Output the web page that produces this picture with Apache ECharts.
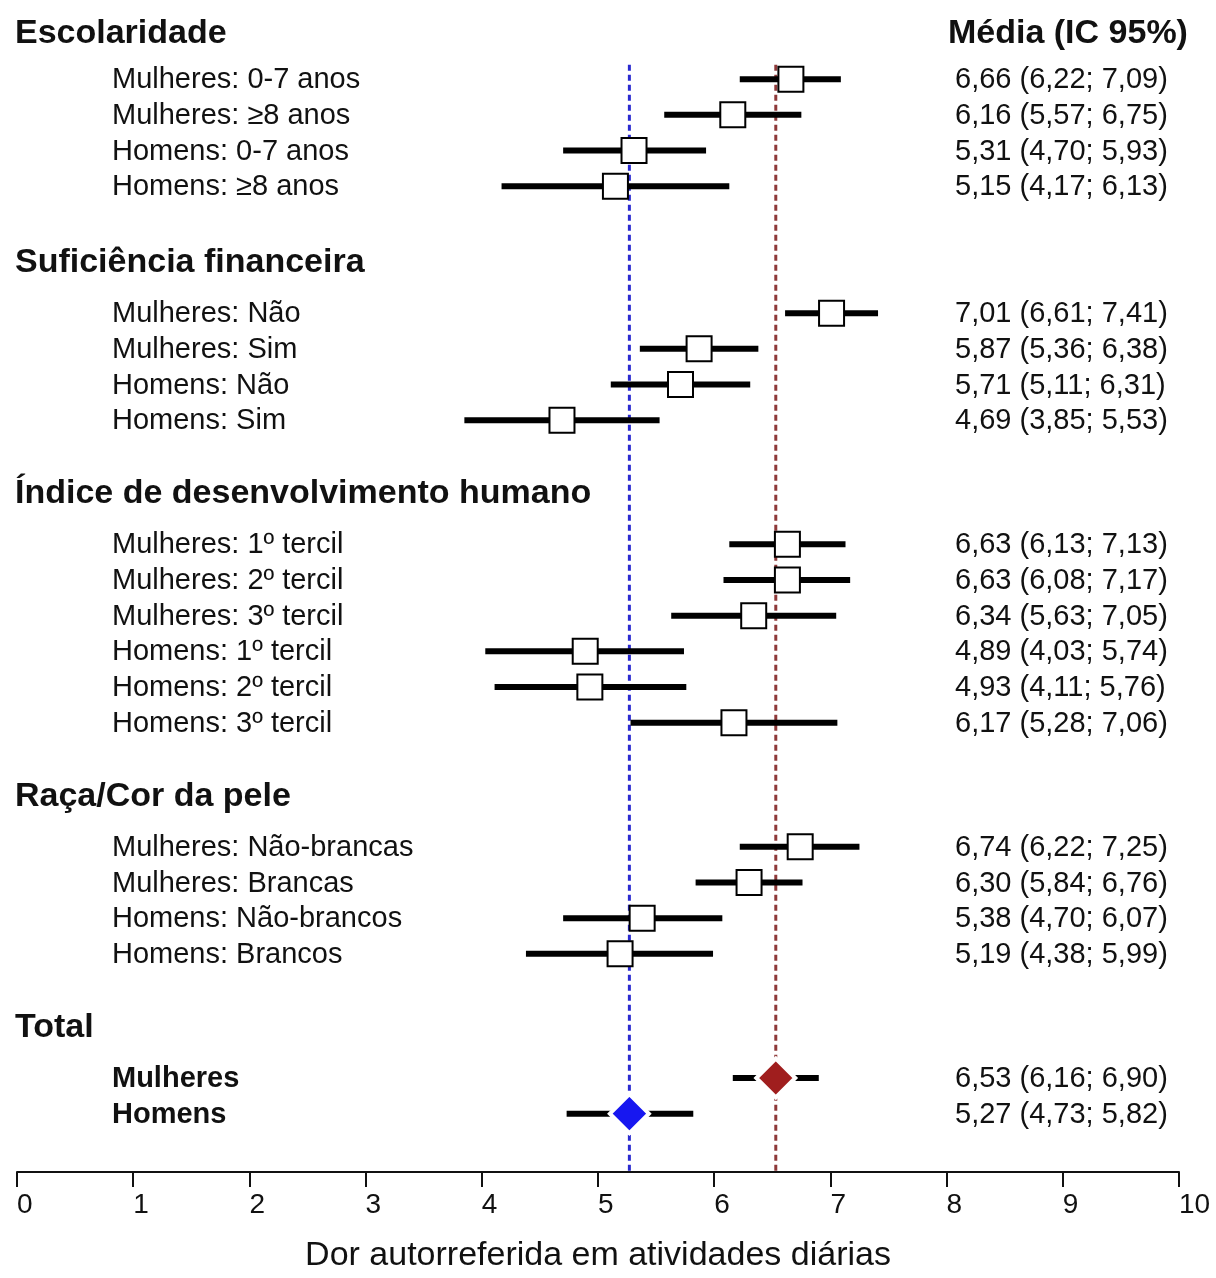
<!DOCTYPE html>
<html>
<head>
<meta charset="utf-8">
<script src="https://cdn.jsdelivr.net/npm/echarts@6/dist/echarts.min.js"></script>
<style>html,body{margin:0;padding:0;background:#fff;}#c{width:1216px;height:1278px;}</style>
</head>
<body>
<div id="c"></div>
<script>
// ---- data ----
const groups = ['Escolaridade', 'Suficiência financeira', 'Índice de desenvolvimento humano', 'Raça/Cor da pele', 'Total'];
const groupSizes = [4, 4, 6, 4, 2];
const labels = [
  'Mulheres: 0-7 anos', 'Mulheres: ≥8 anos', 'Homens: 0-7 anos', 'Homens: ≥8 anos',
  'Mulheres: Não', 'Mulheres: Sim', 'Homens: Não', 'Homens: Sim',
  'Mulheres: 1º tercil', 'Mulheres: 2º tercil', 'Mulheres: 3º tercil',
  'Homens: 1º tercil', 'Homens: 2º tercil', 'Homens: 3º tercil',
  'Mulheres: Não-brancas', 'Mulheres: Brancas', 'Homens: Não-brancos', 'Homens: Brancos',
  'Mulheres', 'Homens'
];
const means = [6.66, 6.16, 5.31, 5.15, 7.01, 5.87, 5.71, 4.69, 6.63, 6.63, 6.34, 4.89, 4.93, 6.17, 6.74, 6.30, 5.38, 5.19, 6.53, 5.27];
const lower = [6.22, 5.57, 4.70, 4.17, 6.61, 5.36, 5.11, 3.85, 6.13, 6.08, 5.63, 4.03, 4.11, 5.28, 6.22, 5.84, 4.70, 4.38, 6.16, 4.73];
const upper = [7.09, 6.75, 5.93, 6.13, 7.41, 6.38, 6.31, 5.53, 7.13, 7.17, 7.05, 5.74, 5.76, 7.06, 7.25, 6.76, 6.07, 5.99, 6.90, 5.82];
const xTicksMin = 0, xTicksMax = 10, xTickStep = 1;
const columnHeader = 'Média (IC 95%)';
const axisTitle = 'Dor autorreferida em atividades diárias';

// ---- layout (row positions, in row units) ----
const headerRows = [];
const itemRows = [];
const itemGroup = [];
let r = 0.5;
groups.forEach((g, gi) => {
  headerRows.push(r);
  r += (gi === 0 ? 1.355 : 1.5);
  for (let i = 0; i < groupSizes[gi]; i++) {
    itemRows.push(r); itemGroup.push(gi);
    if (i < groupSizes[gi] - 1) r += 1;
  }
  r += (gi === 0 ? 2.06 : 1.98);
});
const yMax = 32.49;
const totalIdx = groups.length - 1;
const fmt = v => v.toFixed(2).replace('.', ',');

const ciData = means.map((m, i) => [lower[i], upper[i], itemRows[i], i]);
const sqData = [], dmData = [];
means.forEach((m, i) => {
  if (itemGroup[i] === totalIdx) dmData.push({ value: [m, itemRows[i]], itemStyle: { color: labels[i] === 'Mulheres' ? '#a01e1e' : '#1717f0' } });
  else sqData.push([m, itemRows[i]]);
});
const mulTotal = means[labels.lastIndexOf('Mulheres')];
const homTotal = means[labels.lastIndexOf('Homens')];
const lineTop = headerRows[0] + 0.95;

const FONT = '"Liberation Sans", Arial, sans-serif';

const chart = echarts.init(document.getElementById('c'));
chart.setOption({
  animation: false,
  backgroundColor: '#fff',
  grid: { left: 17, right: 37, top: 13, bottom: 102 },
  xAxis: {
    type: 'value', min: xTicksMin, max: xTicksMax, interval: xTickStep, position: 'bottom',
    splitLine: { show: false },
    axisLine: { show: true, onZero: false, lineStyle: { color: '#111', width: 2 } },
    axisTick: { show: true, length: 15, lineStyle: { color: '#111', width: 2 } },
    axisLabel: { color: '#111', fontSize: 28, fontFamily: FONT, align: 'left', margin: 19 },
    name: axisTitle, nameLocation: 'middle', nameGap: 67,
    nameTextStyle: { color: '#111', fontSize: 34, fontFamily: FONT }
  },
  yAxis: { type: 'value', inverse: true, min: 0, max: yMax, show: false },
  series: [
    {
      type: 'line', data: [[homTotal, lineTop], [homTotal, yMax]], symbol: 'none', z: 1,
      lineStyle: { color: '#2a2ad0', width: 3, type: [6, 4] }, silent: true
    },
    {
      type: 'line', data: [[mulTotal, lineTop], [mulTotal, yMax]], symbol: 'none', z: 1,
      lineStyle: { color: '#8e3a3a', width: 3, type: [6, 4] }, silent: true
    },
    {
      type: 'custom', z: 3, data: ciData,
      encode: { x: [0, 1], y: 2 },
      renderItem: function (params, api) {
        const y = api.value(2);
        const a = api.coord([api.value(0), y]);
        const b = api.coord([api.value(1), y]);
        return { type: 'line', shape: { x1: a[0], y1: a[1], x2: b[0], y2: b[1] }, style: { stroke: '#000', lineWidth: 6 } };
      }
    },
    {
      type: 'scatter', z: 4, data: sqData, symbol: 'rect', symbolSize: 25,
      itemStyle: { color: '#fff', borderColor: '#000', borderWidth: 2, opacity: 1 }
    },
    {
      type: 'scatter', z: 4, data: dmData, symbol: 'diamond', symbolSize: [39, 39],
      itemStyle: { borderColor: '#fff', borderWidth: 4, opacity: 1 }
    },
    {
      type: 'custom', z: 5, data: headerRows.map((hr, i) => [0, hr, i]),
      encode: { x: 0, y: 1 }, clip: false,
      renderItem: function (params, api) {
        const p = api.coord([0, api.value(1)]);
        const i = api.value(2);
        const children = [{ type: 'text', x: 15, y: p[1] + 3, style: { text: groups[i], font: 'bold 34px ' + FONT, fill: '#111', verticalAlign: 'middle' } }];
        if (i === 0) children.push({ type: 'text', x: 948, y: p[1] + 3, style: { text: columnHeader, font: 'bold 34px ' + FONT, fill: '#111', verticalAlign: 'middle' } });
        return { type: 'group', children: children };
      }
    },
    {
      type: 'custom', z: 5, data: itemRows.map((ir, i) => [0, ir, i]),
      encode: { x: 0, y: 1 }, clip: false,
      renderItem: function (params, api) {
        const p = api.coord([0, api.value(1)]);
        const i = api.value(2);
        const bold = itemGroup[i] === totalIdx;
        return {
          type: 'group', children: [
            { type: 'text', x: 112, y: p[1] + 1, style: { text: labels[i], font: (bold ? 'bold ' : '') + '29px ' + FONT, fill: '#111', verticalAlign: 'middle' } },
            { type: 'text', x: 955, y: p[1] + 1, style: { text: fmt(means[i]) + ' (' + fmt(lower[i]) + '; ' + fmt(upper[i]) + ')', font: '29px ' + FONT, fill: '#111', verticalAlign: 'middle' } }
          ]
        };
      }
    }
  ]
});
</script>
</body>
</html>
